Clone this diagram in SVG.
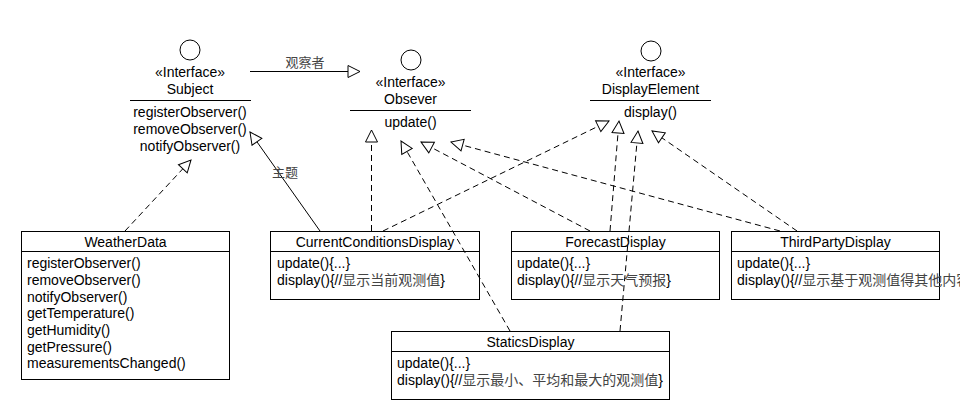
<svg xmlns="http://www.w3.org/2000/svg" width="960" height="420" viewBox="0 0 960 420">
<style>
text{font-family:"Liberation Sans",Arial,"Noto Sans CJK SC",sans-serif;font-size:14px;fill:#000}
.c{text-anchor:middle}
.zh{fill:#444;font-family:"Noto Sans CJK SC","Liberation Sans",sans-serif}
.box{fill:#fff;stroke:#000;stroke-width:1}
.sep{stroke:#000;stroke-width:1}
.ic{fill:#fff;stroke:#000;stroke-width:1}
.dash{fill:none;stroke:#000;stroke-width:1;stroke-dasharray:6,4}
.solid{fill:none;stroke:#000;stroke-width:1}
</style>
<defs>
<marker id="tri" markerUnits="userSpaceOnUse" markerWidth="16" markerHeight="16" refX="13" refY="7" orient="auto">
<path d="M1,1 L13,7 L1,13 Z" fill="#fff" stroke="#000" stroke-width="1"/>
</marker>
</defs>
<rect width="960" height="420" fill="#fff"/>
<g id="subject">
<circle class="ic" cx="190" cy="50" r="10"/>
<text class="c" x="190" y="77">«Interface»</text>
<text class="c" x="190" y="94">Subject</text>
<line class="sep" x1="130" y1="100.5" x2="251" y2="100.5"/>
<text class="c" x="190" y="117">registerObserver()</text>
<text class="c" x="190" y="134">removeObserver()</text>
<text class="c" x="190" y="151">notifyObserver()</text>
</g>
<g id="observer">
<circle class="ic" cx="411" cy="60" r="10"/>
<text class="c" x="410.5" y="87">«Interface»</text>
<text class="c" x="410.5" y="104">Obsever</text>
<line class="sep" x1="350" y1="110.5" x2="471" y2="110.5"/>
<text class="c" x="410.5" y="127">update()</text>
</g>
<g id="displayelement">
<circle class="ic" cx="651" cy="51" r="10"/>
<text class="c" x="650.5" y="77">«Interface»</text>
<text class="c" x="650.5" y="94">DisplayElement</text>
<line class="sep" x1="590" y1="100.5" x2="711" y2="100.5"/>
<text class="c" x="650.5" y="117">display()</text>
</g>
<g id="weatherdata">
<rect class="box" x="21.5" y="231.5" width="208" height="148"/>
<line class="sep" x1="21.5" y1="251.5" x2="229.5" y2="251.5"/>
<text class="c" x="125.5" y="247">WeatherData</text>
<text x="27" y="268">registerObserver()</text>
<text x="27" y="285">removeObserver()</text>
<text x="27" y="302">notifyObserver()</text>
<text x="27" y="318">getTemperature()</text>
<text x="27" y="335">getHumidity()</text>
<text x="27" y="352">getPressure()</text>
<text x="27" y="368">measurementsChanged()</text>
</g>
<g id="currentconditions">
<rect class="box" x="270.5" y="231.5" width="209" height="68"/>
<line class="sep" x1="270.5" y1="251.5" x2="479.5" y2="251.5"/>
<text class="c" x="375" y="247">CurrentConditionsDisplay</text>
<text x="277" y="268">update(){...}</text>
<text x="277" y="285">display(){//<tspan class="zh">显示当前观测值</tspan>}</text>
</g>
<g id="forecast">
<rect class="box" x="511.5" y="231.5" width="208" height="68"/>
<line class="sep" x1="511.5" y1="251.5" x2="719.5" y2="251.5"/>
<text class="c" x="615.5" y="247">ForecastDisplay</text>
<text x="517" y="268">update(){...}</text>
<text x="517" y="285">display(){//<tspan class="zh">显示天气预报</tspan>}</text>
</g>
<g id="thirdparty">
<rect class="box" x="731.5" y="231.5" width="208" height="68"/>
<line class="sep" x1="731.5" y1="251.5" x2="939.5" y2="251.5"/>
<text class="c" x="835.5" y="247">ThirdPartyDisplay</text>
<text x="737" y="268">update(){...}</text>
<text x="737" y="285">display(){//<tspan class="zh">显示基于观测值得其他内容</tspan>}</text>
</g>
<g id="statics">
<rect class="box" x="391.5" y="331.5" width="278" height="68"/>
<line class="sep" x1="391.5" y1="351.5" x2="669.5" y2="351.5"/>
<text class="c" x="530.5" y="347">StaticsDisplay</text>
<text x="397" y="368">update(){...}</text>
<text x="397" y="385">display(){//<tspan class="zh">显示最小、平均和最大的观测值</tspan>}</text>
</g>
<g id="connectors">
<line class="solid" x1="250" y1="71.5" x2="360" y2="71.5" marker-end="url(#tri)"/>
<text class="c zh" x="305" y="67" style="font-size:13px">观察者</text>
<line class="dash" x1="125" y1="231" x2="191" y2="160" marker-end="url(#tri)"/>
<line class="solid" x1="320" y1="231" x2="250" y2="132" marker-end="url(#tri)"/>
<text class="c zh" x="285" y="177" style="font-size:13px">主题</text>
<line class="dash" x1="371.5" y1="231" x2="371.5" y2="130" marker-end="url(#tri)"/>
<line class="dash" x1="383" y1="231" x2="609" y2="121" marker-end="url(#tri)"/>
<line class="dash" x1="510" y1="331" x2="401" y2="141" marker-end="url(#tri)"/>
<line class="dash" x1="620" y1="331" x2="638" y2="131" marker-end="url(#tri)"/>
<line class="dash" x1="590" y1="231" x2="421" y2="142" marker-end="url(#tri)"/>
<line class="dash" x1="610" y1="231" x2="619" y2="121" marker-end="url(#tri)"/>
<line class="dash" x1="780" y1="231" x2="451" y2="142" marker-end="url(#tri)"/>
<line class="dash" x1="797" y1="231" x2="652" y2="131" marker-end="url(#tri)"/>
</g>
</svg>
